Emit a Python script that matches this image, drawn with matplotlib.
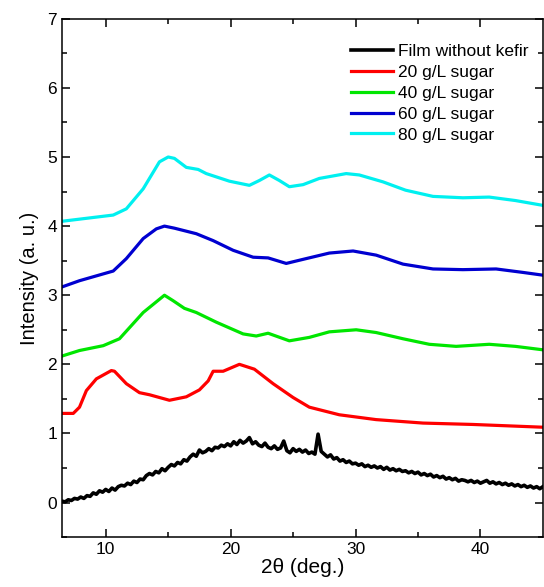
"""
XRD patterns of films with different sugar levels.
"""

import matplotlib.pyplot as plt
import numpy as np

plt.rcParams['font.family'] = ['Liberation Sans', 'DejaVu Sans']

# film without kefir: sampled on a 0.25 deg grid from 6.5 to 45
theta_film = np.arange(6.5, 45.01, 0.25)
film = [0.02, 0.01, 0.04, 0.03, 0.06, 0.05, 0.08, 0.06, 0.10, 0.09,
        0.14, 0.12, 0.17, 0.15, 0.19, 0.16, 0.21, 0.18, 0.23, 0.25,
        0.24, 0.28, 0.26, 0.31, 0.29, 0.34, 0.33, 0.39, 0.42, 0.40,
        0.45, 0.43, 0.49, 0.46, 0.51, 0.55, 0.53, 0.58, 0.56, 0.62,
        0.60, 0.66, 0.70, 0.67, 0.76, 0.72, 0.74, 0.78, 0.75, 0.80,
        0.79, 0.83, 0.81, 0.85, 0.82, 0.88, 0.84, 0.90, 0.86, 0.89,
        0.94, 0.85, 0.88, 0.83, 0.81, 0.86, 0.80, 0.78, 0.82, 0.77,
        0.79, 0.89, 0.75, 0.72, 0.78, 0.74, 0.77, 0.73, 0.76, 0.71,
        0.73, 0.70, 0.99, 0.74, 0.70, 0.66, 0.69, 0.63, 0.65, 0.60,
        0.62, 0.58, 0.60, 0.56, 0.57, 0.54, 0.56, 0.52, 0.54, 0.51,
        0.53, 0.50, 0.52, 0.48, 0.51, 0.47, 0.49, 0.46, 0.48, 0.45,
        0.46, 0.43, 0.45, 0.42, 0.44, 0.40, 0.42, 0.39, 0.41, 0.37,
        0.39, 0.36, 0.38, 0.34, 0.36, 0.33, 0.35, 0.31, 0.33, 0.32,
        0.30, 0.32, 0.29, 0.31, 0.28, 0.30, 0.32, 0.28, 0.30, 0.27,
        0.29, 0.26, 0.28, 0.25, 0.27, 0.24, 0.26, 0.23, 0.25, 0.22,
        0.24, 0.21, 0.23, 0.20, 0.23]

theta_20 = [6.5, 7.4, 7.9, 8.45, 9.25, 10.45, 10.7, 11.65, 12.7, 13.5,
            15.1, 16.45, 17.5, 18.2, 18.6, 19.4, 20.7, 21.9, 23.4, 25.0,
            26.3, 28.7, 31.65, 35.4, 39.4, 45.0]
sugar_20 = [1.29, 1.29, 1.38, 1.62, 1.79, 1.91, 1.90, 1.72, 1.59, 1.56,
            1.48, 1.53, 1.63, 1.76, 1.90, 1.90, 2.00, 1.93, 1.72, 1.52,
            1.38, 1.27, 1.20, 1.15, 1.13, 1.09]

theta_40 = [6.5, 7.9, 9.8, 11.1, 13.0, 14.7, 15.4, 16.3, 17.25, 18.85,
            21.0, 22.05, 23.0, 24.7, 26.3, 27.9, 30.05, 31.65, 33.8, 35.9,
            38.05, 40.7, 42.8, 45.0]
sugar_40 = [2.12, 2.20, 2.27, 2.37, 2.75, 3.00, 2.92, 2.81, 2.75, 2.61,
            2.44, 2.41, 2.45, 2.34, 2.39, 2.47, 2.50, 2.46, 2.37, 2.29,
            2.26, 2.29, 2.26, 2.21]

theta_60 = [6.5, 7.9, 10.6, 11.65, 13.0, 14.05, 14.7, 15.5, 17.25, 18.6,
            20.2, 21.8, 23.0, 24.45, 26.05, 27.9, 29.8, 31.65, 33.8, 36.2,
            38.6, 41.25, 43.4, 45.0]
sugar_60 = [3.12, 3.21, 3.35, 3.53, 3.82, 3.96, 4.00, 3.97, 3.89, 3.79,
            3.65, 3.55, 3.54, 3.46, 3.53, 3.61, 3.64, 3.58, 3.45, 3.38,
            3.37, 3.38, 3.33, 3.29]

theta_80 = [6.5, 10.6, 11.65, 13.0, 14.3, 15.0, 15.5, 16.45, 17.4, 18.05,
            19.9, 21.5, 22.3, 23.1, 23.9, 24.7, 25.8, 27.1, 29.25, 30.3,
            32.2, 34.0, 36.2, 38.6, 40.7, 42.8, 45.0]
sugar_80 = [4.07, 4.16, 4.25, 4.54, 4.93, 5.00, 4.98, 4.85, 4.82, 4.76,
            4.65, 4.59, 4.66, 4.74, 4.66, 4.57, 4.60, 4.69, 4.76, 4.74,
            4.64, 4.52, 4.43, 4.41, 4.42, 4.37, 4.30]

fig = plt.figure(figsize=(5.44, 5.87), dpi=100)
ax = fig.add_axes([0.114, 0.085, 0.884, 0.883])

lw = 2.3
ax.plot(theta_film, film, color='black', lw=2.6, label='Film without kefir')
ax.plot(theta_20, sugar_20, color='#ff0000', lw=lw, label='20 g/L sugar')
ax.plot(theta_40, sugar_40, color='#00e600', lw=lw, label='40 g/L sugar')
ax.plot(theta_60, sugar_60, color='#0000d0', lw=lw, label='60 g/L sugar')
ax.plot(theta_80, sugar_80, color='#00f0f0', lw=lw, label='80 g/L sugar')

ax.set_xlim(6.5, 45)
ax.set_ylim(-0.5, 7)
ax.set_xticks([10, 20, 30, 40])
ax.set_xticks([15, 25, 35], minor=True)
ax.set_yticks(range(8))
ax.set_yticks(np.arange(-0.5, 7, 1.0), minor=True)
ax.tick_params(which='both', direction='in', top=True, right=True,
               labelsize=12.5, width=1.1)
ax.tick_params(which='major', length=6)
ax.tick_params(which='minor', length=3.5)
for s in ax.spines.values():
    s.set_linewidth(1.1)

ax.set_xlabel('2\u03b8 (deg.)', fontsize=15, labelpad=1)
ax.set_ylabel('Intensity (a. u.)', fontsize=14.5, labelpad=6)
ax.legend(loc='upper right', bbox_to_anchor=(0.985, 0.965), frameon=False,
          fontsize=12.5, handlelength=2.4, handletextpad=0.3,
          labelspacing=0.33, borderaxespad=0.0)

plt.savefig('out.png', dpi=100)
